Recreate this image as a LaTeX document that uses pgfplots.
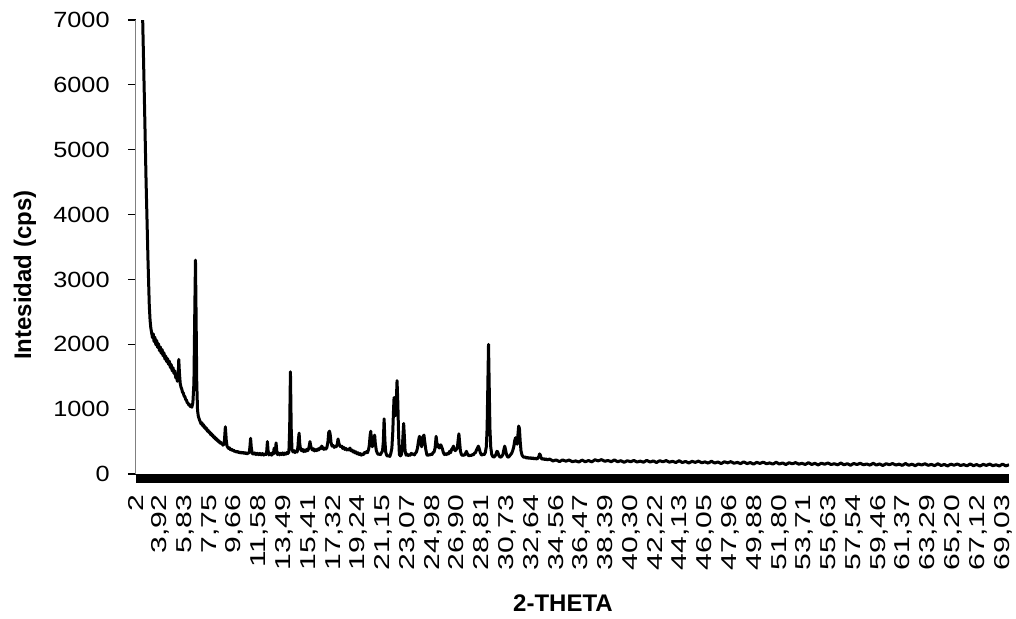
\documentclass[border=0pt]{standalone}
\usepackage{fontspec}
\setmainfont{Liberation Sans}
\newfontfamily\ytickfont{Liberation Sans}[FakeStretch=1.15]
\newfontfamily\xtickfont{Liberation Sans}[FakeStretch=1.4]
\usepackage{pgfplots}
\pgfplotsset{compat=1.18}
\pgfplotstableread{
x y
2.00 12000
2.54 7000
2.67 5800
2.80 4530
2.95 3300
3.05 2600
3.11 2373
3.17 2250
3.24 2168
3.30 2100
3.36 2160
3.42 2040
3.48 2110
3.56 1990
3.62 2060
3.70 1950
3.76 2010
3.84 1900
3.90 1960
3.98 1860
4.04 1920
4.12 1820
4.18 1870
4.26 1770
4.32 1820
4.40 1730
4.46 1780
4.54 1690
4.60 1740
4.68 1640
4.74 1690
4.82 1590
4.88 1640
4.96 1550
5.02 1590
5.10 1480
5.16 1520
5.22 1430
5.28 1480
5.33 1767
5.38 1560
5.44 1400
5.50 1340
5.56 1310
5.62 1260
5.68 1250
5.74 1200
5.80 1195
5.86 1150
5.92 1140
5.98 1100
6.04 1095
6.10 1065
6.16 1070
6.22 1040
6.28 1045
6.34 1030
6.42 1100
6.50 1400
6.56 2400
6.62 3297
6.67 2400
6.72 1400
6.78 980
6.84 890
6.92 840
7.00 800
7.06 770
7.12 790
7.18 745
7.24 760
7.30 715
7.36 730
7.42 690
7.48 705
7.54 660
7.60 675
7.66 640
7.72 650
7.78 610
7.84 625
7.90 590
7.96 600
8.02 565
8.08 575
8.14 540
8.20 555
8.26 520
8.32 530
8.38 500
8.44 510
8.50 480
8.56 490
8.62 465
8.68 470
8.74 445
8.80 455
8.86 520
8.93 729
9.00 520
9.06 430
9.12 410
9.18 395
9.24 405
9.32 375
9.40 385
9.48 360
9.56 370
9.64 345
9.72 355
9.80 335
9.90 350
10.00 325
10.10 340
10.20 320
10.30 335
10.40 315
10.50 330
10.60 310
10.70 325
10.78 330
10.83 420
10.88 550
10.93 420
11.00 320
11.10 305
11.20 325
11.30 300
11.40 320
11.50 298
11.60 318
11.70 295
11.80 315
11.90 292
12.00 310
12.08 300
12.13 360
12.18 500
12.23 360
12.30 295
12.40 315
12.50 290
12.58 330
12.65 310
12.70 400
12.75 320
12.80 340
12.85 480
12.90 360
12.96 300
13.04 325
13.12 295
13.20 320
13.28 300
13.36 325
13.44 298
13.52 322
13.60 305
13.68 330
13.76 315
13.84 340
13.90 700
13.96 1576
14.02 700
14.08 380
14.16 340
14.24 360
14.32 330
14.40 355
14.48 340
14.54 420
14.58 540
14.63 630
14.68 470
14.74 380
14.82 360
14.90 380
14.98 345
15.06 370
15.14 350
15.22 380
15.30 360
15.38 400
15.43 450
15.47 500
15.52 440
15.58 400
15.66 370
15.74 390
15.82 355
15.90 375
15.98 360
16.06 385
16.14 370
16.22 400
16.30 390
16.38 430
16.46 400
16.54 380
16.62 400
16.70 385
16.78 410
16.86 500
16.92 640
16.98 660
17.04 600
17.10 480
17.18 430
17.26 440
17.34 410
17.42 430
17.50 420
17.58 460
17.64 540
17.70 480
17.76 440
17.84 420
17.92 430
18.00 395
18.08 410
18.16 380
18.24 395
18.32 370
18.40 385
18.48 370
18.56 400
18.64 360
18.72 370
18.80 340
18.88 355
18.96 325
19.04 340
19.12 310
19.20 325
19.28 300
19.36 315
19.44 290
19.52 310
19.60 300
19.68 330
19.76 320
19.84 345
19.92 330
20.00 380
20.06 450
20.12 600
20.17 660
20.22 520
20.28 420
20.35 460
20.42 560
20.47 600
20.52 470
20.60 360
20.68 320
20.76 300
20.84 310
20.92 300
21.00 330
21.08 360
21.14 500
21.20 850
21.26 520
21.32 340
21.40 290
21.48 275
21.56 285
21.64 270
21.72 320
21.80 400
21.87 650
21.93 1000
21.97 1180
22.03 950
22.08 900
22.14 1100
22.20 1440
22.26 1100
22.32 600
22.38 300
22.46 280
22.54 300
22.60 380
22.66 600
22.71 780
22.76 600
22.82 360
22.90 290
22.98 305
23.06 285
23.14 300
23.22 290
23.30 320
23.38 300
23.46 310
23.54 295
23.62 320
23.70 340
23.78 400
23.85 500
23.93 580
23.98 560
24.04 470
24.10 420
24.16 520
24.22 580
24.28 600
24.34 500
24.42 380
24.50 300
24.58 285
24.66 300
24.74 290
24.82 310
24.90 300
24.98 330
25.06 340
25.14 400
25.22 580
25.28 480
25.34 420
25.40 450
25.46 400
25.52 430
25.58 450
25.64 420
25.70 390
25.78 330
25.86 300
25.94 315
26.02 300
26.10 320
26.18 310
26.26 350
26.34 330
26.42 380
26.50 400
26.56 430
26.62 380
26.70 360
26.78 380
26.86 400
26.92 520
26.98 620
27.04 480
27.10 350
27.18 300
27.26 285
27.34 295
27.42 290
27.50 320
27.56 350
27.62 320
27.70 290
27.78 280
27.86 290
27.94 285
28.02 300
28.10 295
28.18 320
28.26 330
28.34 370
28.42 400
28.48 430
28.54 400
28.62 340
28.70 300
28.78 290
28.86 310
28.94 300
29.02 330
29.10 420
29.16 700
29.22 1400
29.27 2000
29.32 1400
29.38 700
29.44 420
29.52 300
29.60 270
29.68 260
29.76 275
29.84 300
29.92 350
29.98 340
30.06 290
30.14 265
30.22 260
30.30 275
30.38 300
30.46 380
30.52 430
30.58 380
30.66 300
30.74 265
30.82 260
30.90 280
30.98 300
31.06 320
31.14 360
31.22 420
31.30 520
31.36 560
31.42 480
31.48 460
31.54 600
31.60 740
31.66 700
31.72 500
31.78 360
31.86 290
31.94 270
32.02 255
32.10 265
32.20 245
32.30 255
32.40 240
32.50 252
32.60 238
32.70 248
32.80 232
32.90 244
33.00 230
33.08 245
33.16 270
33.22 310
33.28 290
33.34 245
33.42 228
33.52 238
33.62 222
33.72 232
33.82 218
33.92 226
34.00 230
34.25 201
34.50 217
34.75 191
35.00 217
35.25 198
35.50 216
35.75 190
36.00 202
36.25 185
36.50 215
36.75 189
37.00 208
37.25 187
37.50 220
37.75 203
38.00 222
38.25 196
38.50 209
38.75 190
39.00 217
39.25 189
39.50 206
39.75 180
40.00 205
40.25 189
40.50 209
40.75 185
41.00 199
41.25 182
41.50 211
41.75 184
42.00 202
42.25 177
42.50 205
42.75 188
43.00 207
43.25 183
43.50 196
43.75 177
44.00 205
44.25 177
44.50 194
44.75 169
45.00 196
45.25 179
45.50 199
45.75 174
46.00 187
46.25 168
46.50 197
46.75 169
47.00 186
47.25 161
47.50 189
47.75 172
48.00 191
48.25 166
48.50 179
48.75 160
49.00 188
49.25 160
49.50 177
49.75 152
50.00 180
50.25 163
50.50 183
50.75 158
51.00 171
51.25 153
51.50 181
51.75 154
52.00 171
52.25 146
52.50 174
52.75 157
53.00 176
53.25 152
53.50 165
53.75 147
54.00 175
54.25 147
54.50 165
54.75 140
55.00 167
55.25 151
55.50 170
55.75 146
56.00 159
56.25 141
56.50 169
56.75 142
57.00 159
57.25 135
57.50 163
57.75 146
58.00 166
58.25 142
58.50 155
58.75 137
59.00 165
59.25 138
59.50 156
59.75 131
60.00 159
60.25 143
60.50 162
60.75 138
61.00 152
61.25 133
61.50 162
61.75 134
62.00 152
62.25 128
62.50 155
62.75 139
63.00 158
63.25 134
63.50 148
63.75 129
64.00 158
64.25 131
64.50 148
64.75 124
65.00 152
65.25 135
65.50 155
65.75 131
66.00 145
66.25 126
66.50 155
66.75 128
67.00 146
67.25 122
67.50 149
67.75 133
68.00 153
68.25 129
68.50 142
68.75 124
69.00 153
69.25 125
69.50 143
}\xrd
\begin{document}
\begin{tikzpicture}
\useasboundingbox (-67.85pt,-72pt) rectangle (440.15pt,237pt);
\begin{axis}[
  at={(0,0)}, anchor=south west,
  scale only axis, width=436.65pt, height=227pt,
  xmin=2, xmax=69.5, ymin=0, ymax=7000,
  axis x line=bottom, axis y line=left,
  x axis line style={-, line width=4.5pt, yshift=-2.25pt, line cap=butt},
  y axis line style={-, draw=gray, line width=0.6pt},
  xtick={2,3.92,5.83,7.75,9.66,11.58,13.49,15.41,17.32,19.24,21.15,23.07,24.98,26.90,28.81,30.73,32.64,34.56,36.47,38.39,40.30,42.22,44.13,46.05,47.96,49.88,51.80,53.71,55.63,57.54,59.46,61.37,63.29,65.20,67.12,69.03},
  xticklabels={2,{3,92},{5,83},{7,75},{9,66},{11,58},{13,49},{15,41},{17,32},{19,24},{21,15},{23,07},{24,98},{26,90},{28,81},{30,73},{32,64},{34,56},{36,47},{38,39},{40,30},{42,22},{44,13},{46,05},{47,96},{49,88},{51,80},{53,71},{55,63},{57,54},{59,46},{61,37},{63,29},{65,20},{67,12},{69,03}},
  xtick style={draw=none},
  xticklabel style={rotate=90, anchor=east, inner sep=0pt, font=\xtickfont\fontsize{10.75}{13}\selectfont},
  xticklabel shift=8.3pt,
  ytick={0,1000,2000,3000,4000,5000,6000,7000},
  ytick align=outside, major tick length=3.85pt,
  ytick style={black, line width=0.6pt},
  yticklabel style={/pgf/number format/1000 sep={}, /pgf/number format/assume math mode=true, font=\ytickfont\fontsize{11}{13}\selectfont, anchor=east, inner sep=0pt},
  yticklabel shift=9pt,
  xlabel={2-THETA},
  ylabel={Intesidad (cps)},
  xlabel style={at={(axis description cs:0.4893,-0.2852)}, anchor=center, font=\bfseries\fontsize{12}{14}\selectfont, inner sep=0pt},
  ylabel style={at={(axis description cs:-0.1268,0.4383)}, anchor=center, rotate=0, font=\bfseries\fontsize{12}{14}\selectfont, inner sep=0pt},
]
\addplot[black, line width=1.5pt, line join=round, mark=none] table[x=x, y=y] {\xrd};
\end{axis}
\end{tikzpicture}
\end{document}
